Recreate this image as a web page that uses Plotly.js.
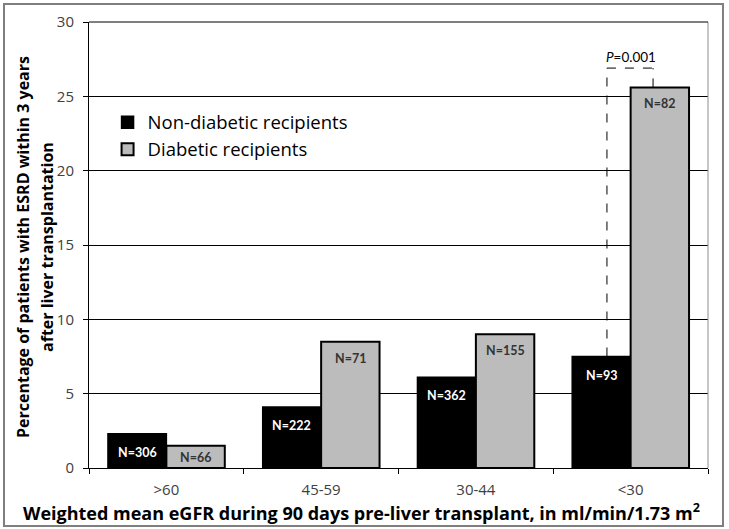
<!DOCTYPE html>
<html>
<head>
<meta charset="utf-8">
<script src="https://cdn.plot.ly/plotly-3.0.1.min.js"></script>
<style>html,body{margin:0;padding:0;background:#fff;}#chart{width:729px;height:529px;}</style>
</head>
<body>
<div id="chart"></div>
<script>
const categories = [">60", "45-59", "30-44", "<30"];
const nonDiabetic = [2.3, 4.1, 6.1, 7.5];
const diabetic = [1.5, 8.5, 9.0, 25.6];
const nonDiabeticN = ["N=306", "N=222", "N=362", "N=93"];
const diabeticN = ["N=66", "N=71", "N=155", "N=82"];
const pText = "<i>P</i>=0.001";
const pCategoryIndex = 3;
const xTitle = "<b>Weighted mean eGFR during 90 days pre-liver transplant, in ml/min/1.73 m<sup>2</sup></b>";
const yTitleLines = ["<b>Percentage of patients with ESRD within 3 years</b>", "<b>after liver transplantation</b>"];

const FONT = "'Open Sans', sans-serif";
const LFONT = "Lato, 'Open Sans', sans-serif";

const traces = [
  {
    type: "bar", name: "Non-diabetic recipients", x: categories, y: nonDiabetic,
    marker: {color: "#000000", line: {color: "#000000", width: 1.5}},
    hoverinfo: "none"
  },
  {
    type: "bar", name: "Diabetic recipients", x: categories, y: diabetic,
    marker: {color: "#bcbcbc", line: {color: "#000000", width: 2}},
    hoverinfo: "none"
  }
];

const halfBar = 29.2;
const annotations = [];
categories.forEach((c, i) => {
  annotations.push({x: c, y: nonDiabetic[i], xref: "x", yref: "y", text: "<b>" + nonDiabeticN[i] + "</b>",
    showarrow: false, xshift: -halfBar, yshift: -9, yanchor: "top",
    font: {family: LFONT, size: 12.5, color: "#ffffff"}});
  annotations.push({x: c, y: diabetic[i], xref: "x", yref: "y", text: "<b>" + diabeticN[i] + "</b>",
    showarrow: false, xshift: halfBar, yshift: diabetic[i] < 2 ? -2 : -7, yanchor: "top",
    font: {family: LFONT, size: 12.5, color: "#333333"}});
});
const bracketTop = 26.9;
annotations.push({x: pCategoryIndex, y: bracketTop, xref: "x", yref: "y", text: pText,
  showarrow: false, yanchor: "bottom", yshift: 1,
  font: {family: LFONT, size: 13.5, color: "#000000"}});
annotations.push({x: 0.441, y: -0.099, xref: "paper", yref: "paper", text: xTitle,
  showarrow: false, xanchor: "center", yanchor: "middle",
  font: {family: FONT, size: 18, color: "#000000"}});
const yTitleX = [-0.1066, -0.0679];
yTitleLines.forEach((t, i) => {
  annotations.push({x: yTitleX[i], y: 0.4955, xref: "paper", yref: "paper", text: t, textangle: -90,
    showarrow: false, xanchor: "center", yanchor: "middle",
    font: {family: FONT, size: 16, color: "#000000"}});
});

const dashLine = {color: "#000000", width: 1, dash: "dash"};
const shapes = [
  {type: "line", xref: "x", yref: "y", x0: pCategoryIndex - 0.153, x1: pCategoryIndex - 0.153,
    y0: nonDiabetic[pCategoryIndex], y1: bracketTop, line: dashLine},
  {type: "line", xref: "x", yref: "y", x0: pCategoryIndex + 0.145, x1: pCategoryIndex + 0.145,
    y0: diabetic[pCategoryIndex], y1: bracketTop, line: dashLine},
  {type: "line", xref: "x", yref: "y", x0: pCategoryIndex - 0.153, x1: pCategoryIndex + 0.145,
    y0: bracketTop, y1: bracketTop, line: dashLine},
  {type: "line", xref: "paper", yref: "paper", x0: 1, x1: 1, y0: 0, y1: 1,
    line: {color: "#8c8c8c", width: 1}},
  {type: "line", xref: "paper", yref: "paper", x0: 0, x1: 1, y0: 1, y1: 1,
    line: {color: "#000000", width: 1}},
  {type: "rect", xref: "paper", yref: "paper", x0: -0.1373, x1: 1.0242, y0: -0.130, y1: 1.0404,
    line: {color: "#7f7f7f", width: 2}, layer: "below"}
];

const layout = {
  width: 729, height: 529,
  margin: {l: 89, r: 21, t: 22, b: 61},
  paper_bgcolor: "#ffffff", plot_bgcolor: "#ffffff",
  font: {family: FONT, color: "#000000"},
  barmode: "group", bargap: 0.245, bargroupgap: 0,
  showlegend: true,
  legend: {x: 0.03, y: 0.817, xanchor: "left", yanchor: "top", bgcolor: "rgba(0,0,0,0)",
    font: {family: FONT, size: 18.5, color: "#000000"}, tracegroupgap: 0},
  xaxis: {
    type: "category", tickson: "boundaries", ticks: "outside", ticklen: 5, tickcolor: "#000000",
    showline: true, linecolor: "#000000", linewidth: 1, showgrid: false,
    ticklabelstandoff: 8,
    tickfont: {family: FONT, size: 15, color: "#404040"}
  },
  yaxis: {
    range: [0, 30], dtick: 5, ticks: "outside", ticklen: 5, tickcolor: "#000000",
    showline: true, linecolor: "#000000", linewidth: 1,
    showgrid: true, gridcolor: "#000000", gridwidth: 1, zeroline: false,
    ticklabelstandoff: 6,
    tickfont: {family: FONT, size: 15, color: "#404040"}
  },
  annotations: annotations,
  shapes: shapes
};

Plotly.newPlot("chart", traces, layout, {displayModeBar: false, staticPlot: true});
</script>
</body>
</html>
